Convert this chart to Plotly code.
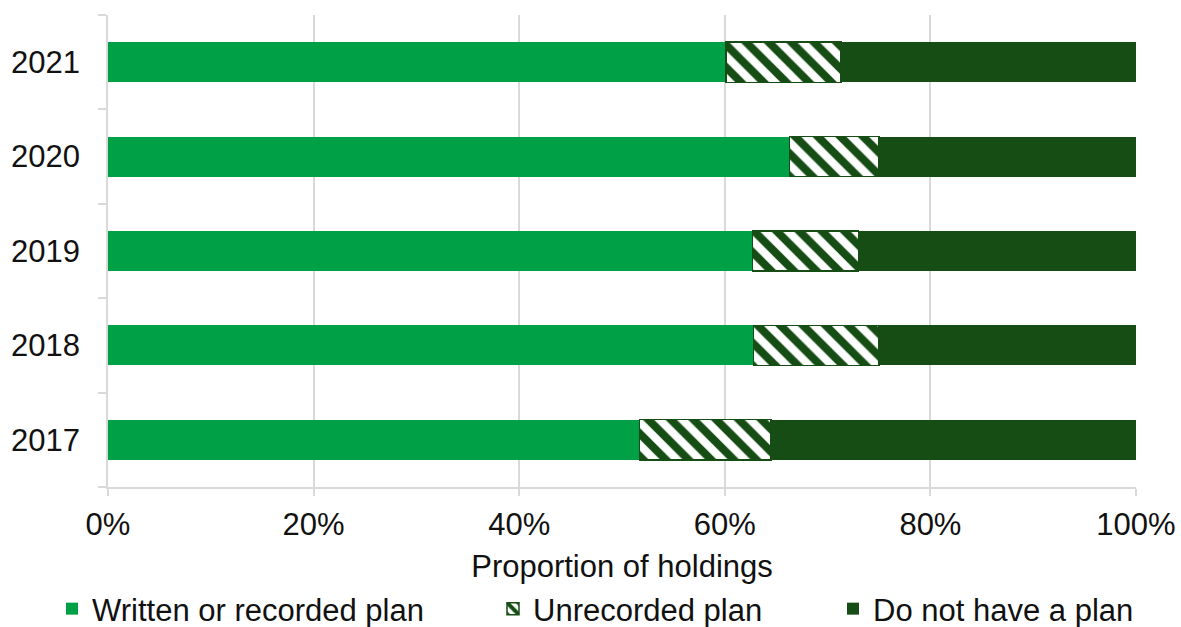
import plotly.graph_objects as go

# Survey years (bottom to top) and share of holdings per plan status, %
years = ["2017", "2018", "2019", "2020", "2021"]
written = [51.7, 62.8, 62.7, 66.3, 60.1]
unrecorded = [12.8, 12.2, 10.3, 8.7, 11.2]
no_plan = [35.5, 25.0, 27.0, 25.0, 28.7]
x_ticks = [0, 20, 40, 60, 80, 100]
x_tick_labels = ["0%", "20%", "40%", "60%", "80%", "100%"]

GREEN = "#00A146"
DARK = "#164D15"
GRID = "#D9D9D9"
TEXT = "#111111"
FONT = "Liberation Sans, Arial, sans-serif"
FS = 31

W, H = 1181, 627

fig = go.Figure()
fig.add_trace(go.Bar(
    y=years, x=written, orientation="h", name="Written or recorded plan",
    marker=dict(color=GREEN, line=dict(width=0)), legend="legend",
))
fig.add_trace(go.Bar(
    y=years, x=unrecorded, orientation="h", name="Unrecorded plan",
    marker=dict(color="white", line=dict(color=DARK, width=1.5),
                pattern=dict(shape="\\", fgcolor=DARK, bgcolor="white",
                             fgopacity=1, size=16, solidity=0.5,
                             fillmode="overlay")),
    legend="legend2",
))
fig.add_trace(go.Bar(
    y=years, x=no_plan, orientation="h", name="Do not have a plan",
    marker=dict(color=DARK, line=dict(width=0)), legend="legend3",
))


def legend_at(text_left_px):
    # one legend box per entry, placed along the bottom edge of the page
    return dict(
        xref="container", yref="container",
        x=(text_left_px - 40) / W, xanchor="left",
        y=1 - 609 / H, yanchor="middle",
        font=dict(size=FS, color=TEXT, family=FONT),
        bgcolor="rgba(0,0,0,0)", borderwidth=0,
    )


fig.update_layout(
    barmode="stack",
    bargap=0.575,
    width=W, height=H,
    margin=dict(l=108, r=45, t=15, b=140, autoexpand=False),
    paper_bgcolor="white", plot_bgcolor="white",
    font=dict(family=FONT, size=FS, color=TEXT),
    showlegend=True,
    legend=legend_at(92),
    legend2=legend_at(533),
    legend3=legend_at(873),
    xaxis=dict(
        range=[0, 100], tickvals=x_ticks, ticktext=x_tick_labels,
        showgrid=True, gridcolor=GRID, gridwidth=1.5,
        showline=True, linecolor=GRID, linewidth=1.5,
        ticks="outside", ticklen=7, tickcolor=GRID, tickwidth=1.5,
        zeroline=False, automargin=False, ticklabelstandoff=2,
        title=dict(text="Proportion of holdings", font=dict(size=FS), standoff=14),
    ),
    yaxis=dict(
        type="category", categoryorder="array", categoryarray=years,
        showline=True, linecolor=GRID, linewidth=1.5,
        ticks="outside", ticklen=8, tickcolor=GRID, tickwidth=1.5,
        tickson="boundaries", showgrid=False, ticklabelstandoff=20,
        automargin=False,
    ),
)

fig.write_html("out.html")
